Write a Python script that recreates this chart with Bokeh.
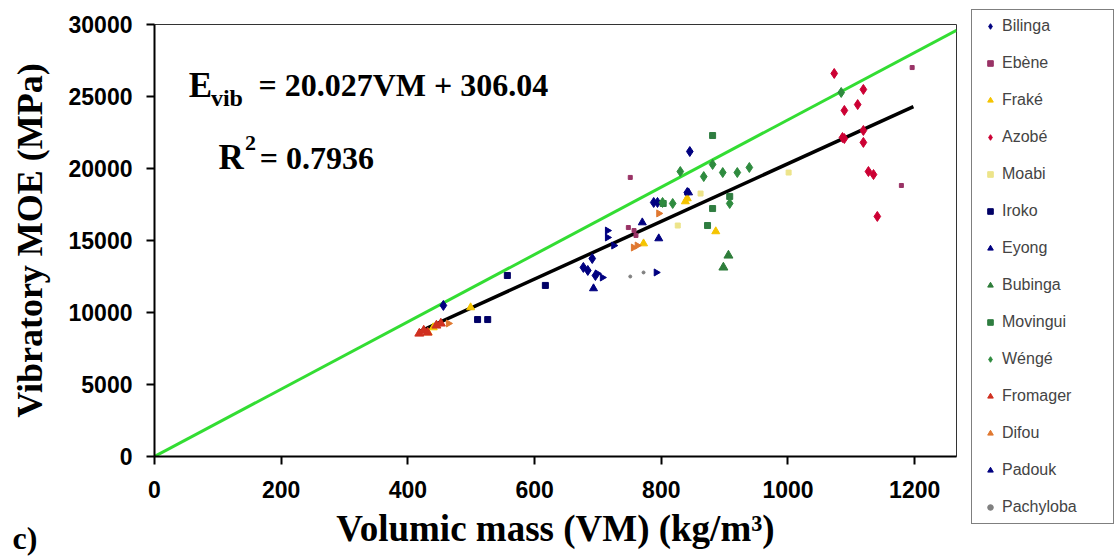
import math
from bokeh.plotting import figure
from bokeh.models import Range1d, Label, FixedTicker, Title
from bokeh.layouts import row, column
from bokeh.embed import file_html
from bokeh.resources import INLINE

# ---- data ----
bilinga_x = [456, 677, 684, 691, 696, 788, 794, 841, 845]
bilinga_y = [10490, 13130, 12920, 13750, 12570, 17640, 17640, 18330, 21180]
ebene_x = [748, 751, 757, 760, 1179, 1196]
ebene_y = [15900, 19380, 15690, 15350, 18820, 27010]
frake_x = [432, 440, 499, 772, 838, 841, 886]
frake_y = [8610, 8960, 10350, 14790, 17710, 17920, 15630]
azobe_x = [1073, 1086, 1089, 1089, 1110, 1119, 1119, 1119, 1127, 1135, 1141]
azobe_y = [26600, 22150, 24030, 22080, 24440, 25490, 22640, 21810, 19790, 19580, 16670]
moabi_x = [826, 862, 1001]
moabi_y = [16040, 18260, 19720]
iroko_x = [510, 526, 557, 617]
iroko_y = [9510, 9510, 12570, 11880]
eyong_x = [693, 770, 796, 843]
eyong_y = [11670, 16250, 15140, 18330]
bubinga_x = [898, 906]
bubinga_y = [13130, 13960]
movingui_x = [803, 873, 881, 881, 908]
movingui_y = [17570, 16040, 17220, 22290, 18060]
wenge_x = [802, 818, 830, 867, 881, 897, 908, 920, 939, 1084]
wenge_y = [17640, 17570, 19790, 19440, 20280, 19720, 17570, 19720, 20070, 25280]
fromager_x = [418, 425, 431, 445, 452]
fromager_y = [8540, 8750, 8610, 9100, 9240]
difou_x = [464, 756, 762, 796]
difou_y = [9240, 14510, 14650, 16880]
padouk_x = [699, 707, 715, 715, 725, 792]
padouk_y = [12710, 12430, 15690, 15210, 14650, 12780]
pachyloba_x = [751, 772]
pachyloba_y = [12500, 12780]

fit_x = [420, 1198]
fit_slope = 20.027
fit_intercept = 306.04
green_x = [0, 1266]
green_y = [0, 29600]

x_ticks = [0, 200, 400, 600, 800, 1000, 1200]
y_ticks = [0, 5000, 10000, 15000, 20000, 25000, 30000]

series = [
    ("Bilinga", bilinga_x, bilinga_y, "diamond", "#000080", 10, 0),
    ("Ebène", ebene_x, ebene_y, "square", "#993366", 4, 0),
    ("Fraké", frake_x, frake_y, "triangle", "#F5C400", 8, 0),
    ("Azobé", azobe_x, azobe_y, "diamond", "#CC0033", 10, 0),
    ("Moabi", moabi_x, moabi_y, "square", "#EDE48A", 5, 0),
    ("Iroko", iroko_x, iroko_y, "square", "#000066", 6, 0),
    ("Eyong", eyong_x, eyong_y, "triangle", "#000080", 8, 0),
    ("Bubinga", bubinga_x, bubinga_y, "triangle", "#2E7D3A", 9, 0),
    ("Movingui", movingui_x, movingui_y, "square", "#2F7D40", 6, 0),
    ("Wéngé", wenge_x, wenge_y, "diamond", "#2E8B3E", 10, 0),
    ("Fromager", fromager_x, fromager_y, "triangle", "#D03020", 9, 0),
    ("Difou", difou_x, difou_y, "triangle", "#E07830", 7, -math.pi / 2),
    ("Padouk", padouk_x, padouk_y, "triangle", "#000080", 7, -math.pi / 2),
    ("Pachyloba", pachyloba_x, pachyloba_y, "circle", "#808080", 3, 0),
]

p = figure(width=960, height=556, output_backend="svg", toolbar_location=None,
           x_range=Range1d(0, 1266), y_range=Range1d(0, 30000),
           min_border_left=154, min_border_right=4, min_border_top=24, min_border_bottom=100)
p.background_fill_color = "white"
p.border_fill_color = "white"
p.outline_line_color = "#333333"
p.outline_line_width = 1
p.xgrid.visible = False
p.ygrid.visible = False

# lines
p.line(green_x, green_y, line_color="#33DD33", line_width=3)
p.line(fit_x, [fit_slope * v + fit_intercept for v in fit_x], line_color="black", line_width=3.5)

for name, xs, ys, marker, col, sz, ang in series:
    p.scatter(xs, ys, marker=marker, size=sz, angle=ang, fill_color=col, line_color=col)

# axes
for ax in (p.xaxis[0], p.yaxis[0]):
    ax.axis_line_color = "black"
    ax.axis_line_width = 2
    ax.major_tick_out = 8
    ax.major_tick_in = 0
    ax.major_tick_line_width = 2
    ax.minor_tick_out = 0
    ax.minor_tick_in = 0
    ax.major_label_text_font = "Liberation Sans"
    ax.major_label_text_font_style = "bold"
    ax.major_label_text_font_size = "23px"
    ax.major_label_text_color = "black"
    ax.axis_label_text_font = "Liberation Serif"
    ax.axis_label_text_font_style = "bold"
    ax.axis_label_text_color = "black"

p.xaxis[0].ticker = FixedTicker(ticks=x_ticks)
p.yaxis[0].ticker = FixedTicker(ticks=y_ticks)
p.xaxis[0].major_label_standoff = 16
p.yaxis[0].major_label_standoff = 14
p.xaxis[0].axis_label = "Volumic mass (VM) (kg/m³)"
p.xaxis[0].axis_label_text_font_size = "37px"
p.xaxis[0].axis_label_standoff = 7
p.yaxis[0].axis_label = "Vibratory MOE (MPa)"
p.yaxis[0].axis_label_text_font_size = "36px"
p.yaxis[0].axis_label_standoff = 16

# panel tag "c)" as a bottom title
ct = Title(text="c)", align="left", offset=-142, vertical_align="top",
           text_font="Liberation Serif", text_font_style="bold", text_font_size="32px",
           standoff=-64, text_color="black")
p.add_layout(ct, "below")

# equation texts
def add_label(x, y, text, size, font="Liberation Serif", style="bold"):
    p.add_layout(Label(x=x, y=y, text=text, text_font=font, text_font_style=style,
                       text_font_size=size, text_color="black", text_baseline="alphabetic"))

add_label(54, 25760, "E", "35px")
add_label(89, 24930, "vib", "24px")
add_label(164, 25830, "= 20.027VM + 306.04", "32px")
add_label(101, 20760, "R", "35px")
add_label(143, 21740, "2", "22px")
add_label(166, 20760, "= 0.7936", "32px")

# legend panel (separate canvas to the right); its renderers fall outside its range
q = figure(width=157, height=556, output_backend="svg", toolbar_location=None,
           x_range=Range1d(0, 1), y_range=Range1d(0, 1),
           x_axis_location=None, y_axis_location=None,
           min_border_left=0, min_border_right=0, min_border_top=0, min_border_bottom=0)
q.outline_line_color = None
q.xgrid.visible = False
q.ygrid.visible = False
for name, xs, ys, marker, col, sz, ang in series:
    q.scatter(xs, ys, marker=marker, size=sz, angle=ang, fill_color=col,
              line_color=col, legend_label=name)
lg = q.legend[0]
lg.location = (11, 32)
lg.border_line_color = "black"
lg.border_line_width = 1
lg.background_fill_color = "white"
lg.background_fill_alpha = 1
lg.label_text_font = "Liberation Sans"
lg.label_text_font_size = "16px"
lg.label_height = 20
lg.glyph_height = 14
lg.glyph_width = 24
lg.label_standoff = 0
lg.label_width = 105
lg.spacing = 17
lg.padding = 6
lg.margin = 0

layout = row(p, column(q))
open("out.html", "w").write(file_html(layout, INLINE))
